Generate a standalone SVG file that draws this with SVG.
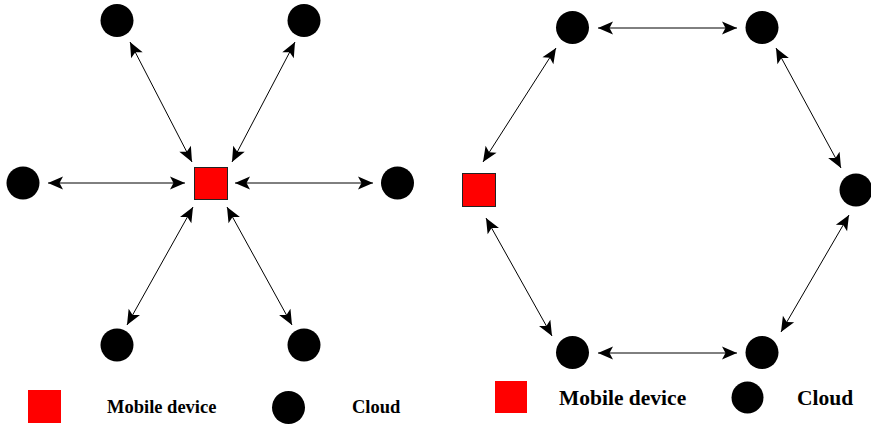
<svg xmlns="http://www.w3.org/2000/svg" width="871" height="424" viewBox="0 0 871 424">
<style>
.cloud{fill:#000}
.dev{fill:#ff0000;stroke:#222;stroke-width:1}
.leg{fill:#ff0000}
.conn line{stroke:#000;stroke-width:1;marker-start:url(#ah);marker-end:url(#ah)}
.t1{font-family:"Liberation Serif","Times New Roman",serif;font-weight:bold;font-size:18.5px;fill:#000}
.t2{font-family:"Liberation Serif","Times New Roman",serif;font-weight:bold;font-size:21.5px;fill:#000}
</style>
<defs>
<marker id="ah" markerUnits="userSpaceOnUse" markerWidth="16" markerHeight="14" refX="15" refY="6.5" orient="auto-start-reverse" overflow="visible">
<path d="M0,0 L15,6.5 L0,13 L3.5,6.5 Z" fill="#000"/>
</marker>
</defs>
<rect width="871" height="424" fill="#fff"/>
<g class="conn" id="connectors">
<line x1="48" y1="183" x2="185" y2="183"/>
<line x1="235" y1="183" x2="373" y2="183"/>
<line x1="130" y1="42" x2="192" y2="162"/>
<line x1="295" y1="42" x2="232" y2="162"/>
<line x1="193" y1="207" x2="127" y2="325"/>
<line x1="227" y1="207" x2="292" y2="325"/>
<line x1="598" y1="28" x2="737" y2="28"/>
<line x1="556" y1="48" x2="483" y2="162"/>
<line x1="776" y1="48" x2="841" y2="168"/>
<line x1="486" y1="218" x2="552" y2="336"/>
<line x1="849" y1="215" x2="781" y2="332"/>
<line x1="598" y1="353" x2="737" y2="353"/>
</g>
<g id="l-device"><rect class="dev" x="194.5" y="167.5" width="33" height="32"/></g>
<g id="l-cloud-tl"><circle class="cloud" cx="117" cy="20.5" r="16.5"/></g>
<g id="l-cloud-tr"><circle class="cloud" cx="304" cy="20.5" r="16.5"/></g>
<g id="l-cloud-l"><circle class="cloud" cx="23" cy="183" r="16.5"/></g>
<g id="l-cloud-r"><circle class="cloud" cx="397.5" cy="183" r="16.5"/></g>
<g id="l-cloud-bl"><circle class="cloud" cx="117" cy="345" r="16.5"/></g>
<g id="l-cloud-br"><circle class="cloud" cx="304" cy="345" r="16.5"/></g>
<g id="r-device"><rect class="dev" x="462.5" y="173.5" width="33" height="33"/></g>
<g id="r-cloud-tl"><circle class="cloud" cx="572.5" cy="27.5" r="16.5"/></g>
<g id="r-cloud-tr"><circle class="cloud" cx="762" cy="27.5" r="16.5"/></g>
<g id="r-cloud-r"><circle class="cloud" cx="856" cy="190" r="16.5"/></g>
<g id="r-cloud-bl"><circle class="cloud" cx="572.5" cy="352.5" r="16.5"/></g>
<g id="r-cloud-br"><circle class="cloud" cx="762" cy="352.5" r="16.5"/></g>
<g id="legend-left">
<rect class="leg" x="28" y="390" width="33" height="33"/>
<text class="t1" x="107" y="413">Mobile device</text>
<circle class="cloud" cx="288.5" cy="407.5" r="16.5"/>
<text class="t1" x="352" y="413">Cloud</text>
</g>
<g id="legend-right">
<rect class="leg" x="495" y="381" width="32" height="32"/>
<text class="t2" x="559" y="405">Mobile device</text>
<circle class="cloud" cx="747.5" cy="397.5" r="16"/>
<text class="t2" x="797" y="405">Cloud</text>
</g>
</svg>
